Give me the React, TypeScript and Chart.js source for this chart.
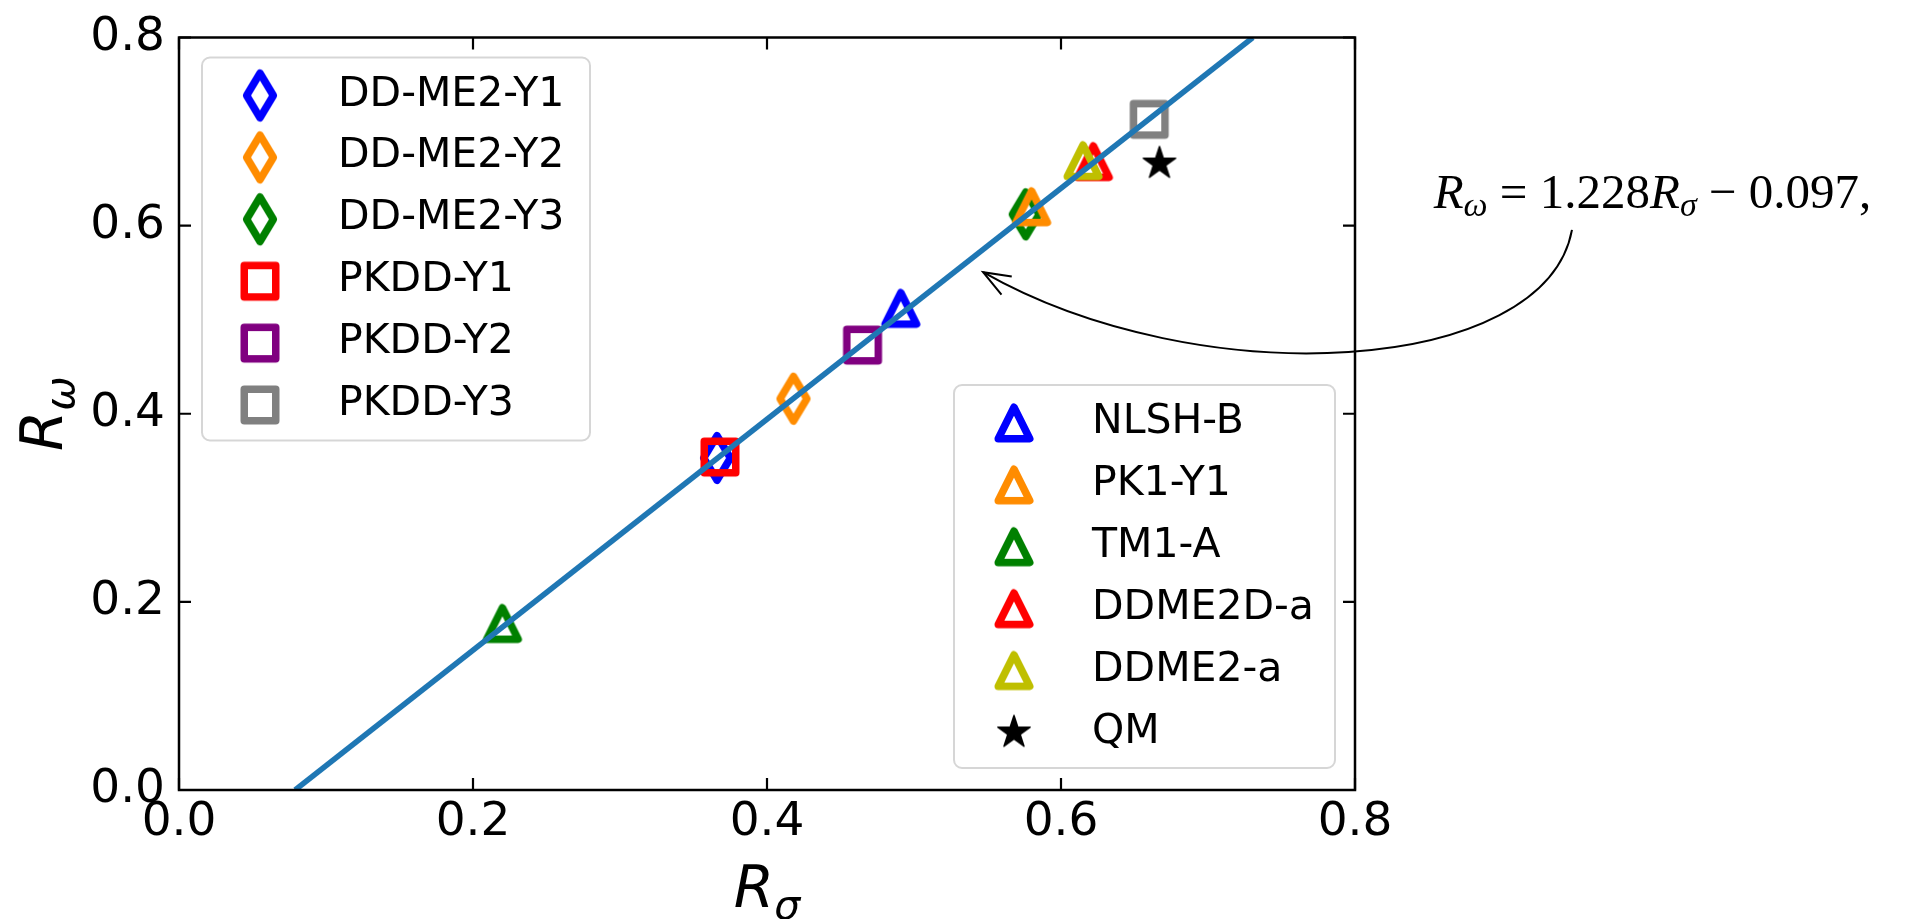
import React, { useEffect, useRef } from 'react';
import { Chart, registerables } from 'chart.js';

Chart.register(...registerables);

const W = 1926;
const H = 919;

// ---------- data ----------
const seriesNames = [
  'DD-ME2-Y1', 'DD-ME2-Y2', 'DD-ME2-Y3', 'PKDD-Y1', 'PKDD-Y2', 'PKDD-Y3',
  'NLSH-B', 'PK1-Y1', 'TM1-A', 'DDME2D-a', 'DDME2-a', 'QM',
];
const rSigma = [0.366, 0.418, 0.576, 0.368, 0.465, 0.660, 0.491, 0.580, 0.220, 0.622, 0.615, 0.667];
const rOmega = [0.353, 0.416, 0.612, 0.354, 0.473, 0.713, 0.512, 0.620, 0.177, 0.668, 0.669, 0.666];
const seriesColors = [
  '#0000ff', '#ff8c00', '#008000', '#ff0000', '#800080', '#808080',
  '#0000ff', '#ff8c00', '#008000', '#ff0000', '#bfbf00', '#000000',
];
const seriesMarkers = [
  'thinDiamond', 'thinDiamond', 'thinDiamond', 'square', 'square', 'square',
  'triangle', 'triangle', 'triangle', 'triangle', 'triangle', 'star',
];
const legendGroupA = [0, 1, 2, 3, 4, 5];
const legendGroupB = [6, 7, 8, 9, 10, 11];

const fitSigma = [0.079, 0.7305];
const fitOmega = [0.0, 0.8];

const xTicks = [0.0, 0.2, 0.4, 0.6, 0.8];
const yTicks = [0.0, 0.2, 0.4, 0.6, 0.8];

// annotation anchors (data coordinates)
const annotText = { x: 0.8535, y: 0.619 };
const arrowStart = { x: 0.9476, y: 0.5955 };
const arrowC1 = { x: 0.9293, y: 0.4404 };
const arrowC2 = { x: 0.6942, y: 0.4194 };
const arrowTip = { x: 0.547, y: 0.5505 };

// ---------- styles ----------
const SANS = '"DejaVu Sans"';
const SERIF = '"Liberation Serif"';
const MS = 31.5;
const MEW = 7.5;

function makeMarker(kind: string, color: string): HTMLCanvasElement {
  const c = document.createElement('canvas');
  c.width = 64;
  c.height = 64;
  const g = c.getContext('2d')!;
  g.translate(32, 32);
  g.lineJoin = 'round';
  g.strokeStyle = color;
  g.fillStyle = color;
  g.lineWidth = MEW;
  g.beginPath();
  if (kind === 'thinDiamond') {
    const h = (MS * Math.SQRT2) / 2;
    const w = 0.6 * h;
    g.moveTo(0, -h);
    g.lineTo(w, 0);
    g.lineTo(0, h);
    g.lineTo(-w, 0);
    g.closePath();
    g.stroke();
  } else if (kind === 'square') {
    g.rect(-MS / 2, -MS / 2, MS, MS);
    g.stroke();
  } else if (kind === 'triangle') {
    g.moveTo(0, -MS / 2);
    g.lineTo(MS / 2, MS / 2);
    g.lineTo(-MS / 2, MS / 2);
    g.closePath();
    g.stroke();
  } else {
    const ro = 17;
    const ri = ro * 0.381966;
    for (let i = 0; i < 10; i++) {
      const r = i % 2 === 0 ? ro : ri;
      const a = -Math.PI / 2 + (i * Math.PI) / 5;
      const px = r * Math.cos(a);
      const py = r * Math.sin(a);
      if (i === 0) g.moveTo(px, py);
      else g.lineTo(px, py);
    }
    g.closePath();
    g.fill();
    g.lineWidth = 1.5;
    g.stroke();
  }
  return c;
}

type Run = { t: string; font: string; dy?: number };

function runsWidth(ctx: CanvasRenderingContext2D, runs: Run[]) {
  let w = 0;
  for (const r of runs) {
    ctx.font = r.font;
    w += ctx.measureText(r.t).width;
  }
  return w;
}

function drawRuns(ctx: CanvasRenderingContext2D, runs: Run[], x: number, y: number) {
  let cx = x;
  for (const r of runs) {
    ctx.font = r.font;
    ctx.fillText(r.t, cx, y + (r.dy || 0));
    cx += ctx.measureText(r.t).width;
  }
}

function roundRect(ctx: CanvasRenderingContext2D, x: number, y: number, w: number, h: number, r: number) {
  ctx.beginPath();
  ctx.moveTo(x + r, y);
  ctx.lineTo(x + w - r, y);
  ctx.arcTo(x + w, y, x + w, y + r, r);
  ctx.lineTo(x + w, y + h - r);
  ctx.arcTo(x + w, y + h, x + w - r, y + h, r);
  ctx.lineTo(x + r, y + h);
  ctx.arcTo(x, y + h, x, y + h - r, r);
  ctx.lineTo(x, y + r);
  ctx.arcTo(x, y, x + r, y, r);
  ctx.closePath();
}

export default function App() {
  const ref = useRef<HTMLCanvasElement>(null);

  useEffect(() => {
    document.body.style.margin = '0';
    const canvas = ref.current!;
    const markers = seriesNames.map((_, i) => makeMarker(seriesMarkers[i], seriesColors[i]));

    const drawLegend = (
      ctx: CanvasRenderingContext2D,
      idx: number[],
      bx: number,
      by: number,
      bw: number,
      bh: number,
      mx: number,
      tx: number,
    ) => {
      ctx.save();
      roundRect(ctx, bx, by, bw, bh, 8);
      ctx.fillStyle = 'rgba(255,255,255,0.8)';
      ctx.fill();
      ctx.lineWidth = 2;
      ctx.strokeStyle = 'rgba(204,204,204,0.8)';
      ctx.stroke();
      ctx.fillStyle = '#000';
      ctx.font = `41px ${SANS}`;
      ctx.textBaseline = 'alphabetic';
      ctx.textAlign = 'left';
      idx.forEach((si, k) => {
        const cy = by + 38 + k * 61.9;
        const m = markers[si];
        ctx.drawImage(m, bx + mx - m.width / 2, cy - m.height / 2);
        ctx.fillText(seriesNames[si], bx + tx, cy + 10);
      });
      ctx.restore();
    };

    const decor = {
      id: 'decor',
      afterDraw(chart: any) {
        const ctx: CanvasRenderingContext2D = chart.ctx;
        const { left, right, top, bottom } = chart.chartArea;
        const xs = chart.scales.x;
        const ys = chart.scales.y;

        // legends
        drawLegend(ctx, legendGroupA, left + 23, top + 20, 388, 383, 58, 136);
        drawLegend(ctx, legendGroupB, right - 20 - 381, bottom - 22 - 383, 381, 383, 60, 138);

        // spines
        ctx.save();
        ctx.strokeStyle = '#000';
        ctx.lineWidth = 2.5;
        ctx.strokeRect(left, top, right - left, bottom - top);
        // inward ticks on all sides
        ctx.lineWidth = 2.2;
        ctx.beginPath();
        for (const v of xTicks) {
          const px = xs.getPixelForValue(v);
          ctx.moveTo(px, bottom);
          ctx.lineTo(px, bottom - 12);
          ctx.moveTo(px, top);
          ctx.lineTo(px, top + 12);
        }
        for (const v of yTicks) {
          const py = ys.getPixelForValue(v);
          ctx.moveTo(left, py);
          ctx.lineTo(left + 12, py);
          ctx.moveTo(right, py);
          ctx.lineTo(right - 12, py);
        }
        ctx.stroke();
        ctx.restore();

        // axis titles
        ctx.save();
        ctx.fillStyle = '#000';
        ctx.textBaseline = 'alphabetic';
        ctx.textAlign = 'left';
        const xRuns: Run[] = [
          { t: 'R', font: `italic 58px ${SANS}` },
          { t: 'σ', font: `italic 41px ${SANS}`, dy: 12 },
        ];
        const xw = runsWidth(ctx, xRuns);
        drawRuns(ctx, xRuns, (left + right) / 2 - xw / 2, 907);
        const yRuns: Run[] = [
          { t: 'R', font: `italic 58px ${SANS}` },
          { t: 'ω', font: `italic 41px ${SANS}`, dy: 12 },
        ];
        const yw = runsWidth(ctx, yRuns);
        ctx.translate(62, (top + bottom) / 2);
        ctx.rotate(-Math.PI / 2);
        drawRuns(ctx, yRuns, -yw / 2, 0);
        ctx.restore();

        // annotation text
        ctx.save();
        ctx.fillStyle = '#000';
        ctx.textBaseline = 'alphabetic';
        ctx.textAlign = 'left';
        const aRuns: Run[] = [
          { t: 'R', font: `italic 49px ${SERIF}` },
          { t: 'ω', font: `italic 34px ${SERIF}`, dy: 8 },
          { t: ' = 1.228', font: `49px ${SERIF}` },
          { t: 'R', font: `italic 49px ${SERIF}` },
          { t: 'σ', font: `italic 34px ${SERIF}`, dy: 8 },
          { t: ' − 0.097,', font: `49px ${SERIF}` },
        ];
        drawRuns(ctx, aRuns, xs.getPixelForValue(annotText.x), ys.getPixelForValue(annotText.y));

        // curved arrow
        const p0 = { x: xs.getPixelForValue(arrowStart.x), y: ys.getPixelForValue(arrowStart.y) };
        const p1 = { x: xs.getPixelForValue(arrowC1.x), y: ys.getPixelForValue(arrowC1.y) };
        const p2 = { x: xs.getPixelForValue(arrowC2.x), y: ys.getPixelForValue(arrowC2.y) };
        const p3 = { x: xs.getPixelForValue(arrowTip.x), y: ys.getPixelForValue(arrowTip.y) };
        ctx.strokeStyle = '#000';
        ctx.lineWidth = 2;
        ctx.beginPath();
        ctx.moveTo(p0.x, p0.y);
        ctx.bezierCurveTo(p1.x, p1.y, p2.x, p2.y, p3.x, p3.y);
        ctx.stroke();
        const back = Math.atan2(p2.y - p3.y, p2.x - p3.x);
        const hl = 29;
        const ha = (21 * Math.PI) / 180;
        ctx.beginPath();
        ctx.moveTo(p3.x + hl * Math.cos(back + ha), p3.y + hl * Math.sin(back + ha));
        ctx.lineTo(p3.x, p3.y);
        ctx.lineTo(p3.x + hl * Math.cos(back - ha), p3.y + hl * Math.sin(back - ha));
        ctx.stroke();
        ctx.restore();
      },
    };

    const scatterSets = seriesNames.map((name, i) => ({
      label: name,
      data: [{ x: rSigma[i], y: rOmega[i] }],
      pointStyle: markers[i],
      pointRadius: 16,
      pointHoverRadius: 16,
      backgroundColor: seriesColors[i],
      borderColor: seriesColors[i],
      showLine: false,
      order: 20 - i,
    }));

    const tickFont = { family: 'DejaVu Sans', size: 47, lineHeight: 1 };

    const chart = new Chart(canvas, {
      type: 'scatter',
      data: {
        datasets: [
          {
            label: 'fit',
            data: fitSigma.map((x, i) => ({ x, y: fitOmega[i] })),
            showLine: true,
            borderColor: '#1f77b4',
            backgroundColor: '#1f77b4',
            borderWidth: 5.5,
            borderCapStyle: 'butt',
            pointRadius: 0,
            pointHoverRadius: 0,
            order: 0,
            clip: 0,
          } as any,
          ...(scatterSets as any[]),
        ],
      },
      options: {
        responsive: false,
        animation: false,
        devicePixelRatio: 1,
        events: [],
        layout: { padding: { left: 0, top: 27, right: 571, bottom: 0 } },
        plugins: {
          legend: { display: false },
          tooltip: { enabled: false },
          title: { display: false },
        },
        scales: {
          x: {
            type: 'linear',
            min: 0,
            max: 0.8,
            grid: { display: false, drawTicks: false },
            border: { display: false },
            afterBuildTicks: (s: any) => {
              s.ticks = xTicks.map((v) => ({ value: v }));
            },
            afterFit: (s: any) => {
              s.height = 129;
            },
            ticks: {
              autoSkip: false,
              maxRotation: 0,
              padding: 9,
              color: '#000',
              font: tickFont,
              callback: (v: any) => Number(v).toFixed(1),
            },
          },
          y: {
            type: 'linear',
            min: 0,
            max: 0.8,
            grid: { display: false, drawTicks: false },
            border: { display: false },
            afterBuildTicks: (s: any) => {
              s.ticks = yTicks.map((v) => ({ value: v }));
            },
            afterFit: (s: any) => {
              s.width = 179;
            },
            ticks: {
              autoSkip: false,
              padding: 14,
              color: '#000',
              font: tickFont,
              callback: (v: any) => Number(v).toFixed(1),
            },
          },
        },
      } as any,
      plugins: [decor],
    });

    return () => chart.destroy();
  }, []);

  return (
    <div style={{ position: 'fixed', left: 0, top: 0, width: W, height: H, background: '#fff' }}>
      <canvas ref={ref} width={W} height={H} style={{ width: W, height: H, display: 'block' }} />
    </div>
  );
}
